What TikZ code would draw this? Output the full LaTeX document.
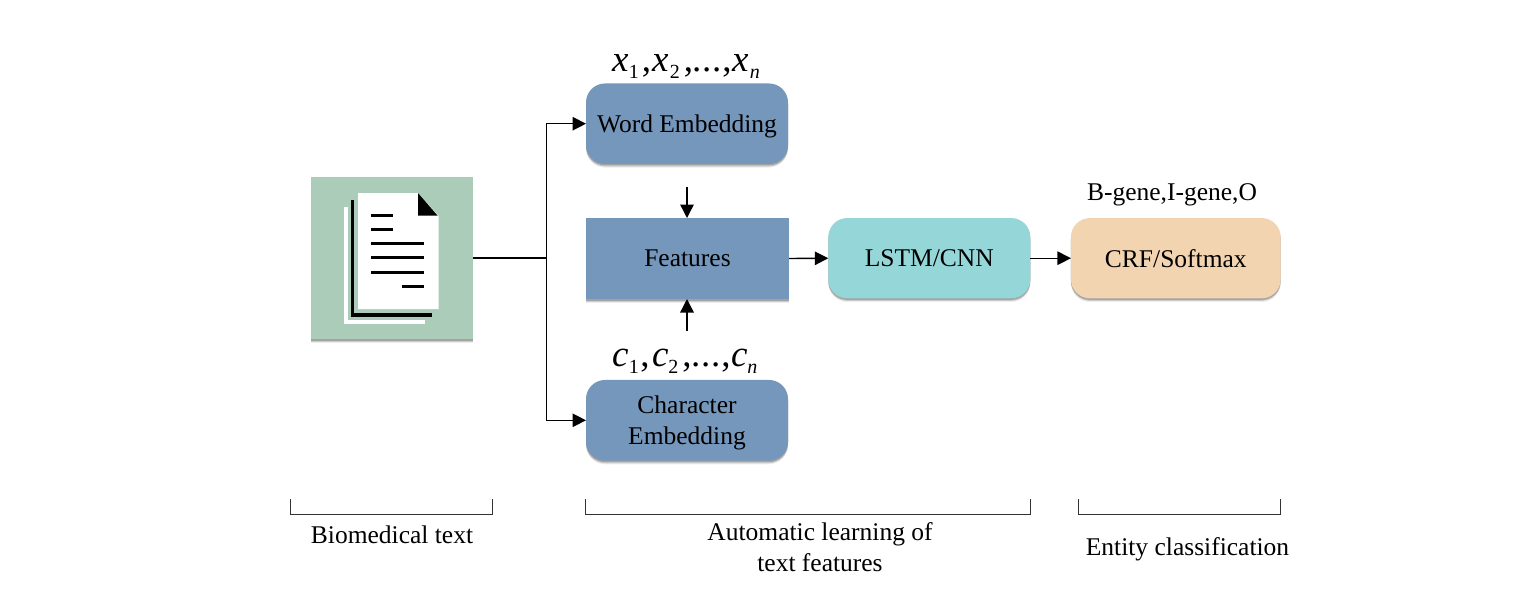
\documentclass[tikz,border=0pt]{standalone}
\usepackage{fontspec}
\setmainfont{Liberation Serif}
\usetikzlibrary{arrows.meta,shadows}
\definecolor{docgreen}{HTML}{AACCB8}
\definecolor{boxblue}{HTML}{7597BC}
\definecolor{boxteal}{HTML}{95D6D8}
\definecolor{boxpeach}{HTML}{F2D4B0}
\tikzset{
  softshadow/.style={
    general shadow={shadow xshift=0pt,shadow yshift=-3.6pt,fill=black,opacity=.07},
    general shadow={shadow xshift=0pt,shadow yshift=-2.6pt,fill=black,opacity=.14},
    general shadow={shadow xshift=0pt,shadow yshift=-1.5pt,fill=black,opacity=.2}},
  stage/.style={draw=none,inner sep=0pt,outer sep=0pt,softshadow,font=\fontsize{25.5}{31}\selectfont,align=center,text=black},
  roundstage/.style={stage,rounded corners=19pt},
  plaintext/.style={inner sep=0pt,outer sep=0pt,font=\fontsize{25.5}{31}\selectfont,align=center,text=black},
  mathtext/.style={inner sep=0pt,outer sep=0pt,anchor=base west,text=black},
  arr/.style={line width=1.4pt,-{Triangle[length=13.5pt,width=13.5pt]}},
  link/.style={line width=1.4pt},
  brace/.style={line width=1pt,black!80},
  docstroke/.style={line width=3pt,black},
}
\newcommand{\lowstrut}{\rule{0pt}{23pt}}
\newcommand{\mvar}[1]{{\fontsize{37}{40}\selectfont\itshape #1}}
\newcommand{\msub}[1]{\raisebox{-7.5pt}{\fontsize{20}{24}\selectfont #1}}
\newcommand{\msubi}[1]{\raisebox{-7.5pt}{\fontsize{20}{24}\selectfont\itshape #1}}
\newcommand{\mcomma}{{\fontsize{37}{40}\selectfont ,}}
\newcommand{\mdots}{{\fontsize{37}{40}\selectfont .\hspace{0.8pt}.\hspace{0.8pt}.}}
\begin{document}
\begin{tikzpicture}[x=1pt,y=-1pt]
\useasboundingbox (0,0) rectangle (1528,598);
% document tile
\node[stage,fill=docgreen,minimum width=162pt,minimum height=162pt] (doc) at (392,258) {};
\fill[white] (344.3,207) rectangle (347.7,323.7);
\fill[white] (344.3,320.3) rectangle (425.3,323.7);
\fill[black] (351,200) rectangle (354,316.7);
\fill[black] (351,313) rectangle (432,316.7);
\fill[white] (358,193) -- (418,193) -- (438.7,216) -- (438.7,309) -- (358,309) -- cycle;
\fill[black] (418,193) -- (418,215.7) -- (437.7,215.7) -- cycle;
\foreach \yy/\xa/\xb in {215.3/371/392.7,229.3/371/392.7,243.7/371/423.7,257.7/371/423.7,272/371/423.7,286.3/402.3/423.7}
  \draw[docstroke] (\xa,\yy) -- (\xb,\yy);
% boxes
\node[roundstage,fill=boxblue,minimum width=202pt,minimum height=80.5pt] (word) at (687,123.7) {\lowstrut Word Embedding};
\node[stage,fill=boxblue,minimum width=203pt,minimum height=81pt] (feat) at (687.5,258.5) {Features};
\node[roundstage,fill=boxblue,minimum width=202pt,minimum height=80.7pt] (char) at (687,420.3) {\lowstrut Character\\Embedding};
\node[roundstage,fill=boxteal,minimum width=202pt,minimum height=80.3pt] (lstm) at (929.3,258.2) {LSTM/CNN};
\node[roundstage,fill=boxpeach,minimum width=209.7pt,minimum height=80.3pt] (crf) at (1175.8,258.2) {CRF/Softmax};
% math labels
\node[mathtext] (xa) at (612,71) {\mvar{x}\hspace{0.5pt}\msub{1}\hspace{3pt}\mcomma};
\node[mathtext] (xb) at (652,71) {\mvar{x}\hspace{1.5pt}\msub{2}\hspace{4pt}\mcomma};
\node[mathtext] (xc) at (692,71) {\mdots\hspace{1pt}\mcomma};
\node[mathtext] (xd) at (732,71) {\mvar{x}\hspace{1.5pt}\msubi{n}};
\node[mathtext] (ca) at (612,366) {\mvar{c}\hspace{0.5pt}\msub{1}\hspace{1.5pt}\mcomma};
\node[mathtext] (cb) at (652,366) {\mvar{c}\hspace{0pt}\msub{2}\hspace{4pt}\mcomma};
\node[mathtext] (cc) at (691,366) {\mdots\hspace{1pt}\mcomma};
\node[mathtext] (cd) at (731,366) {\mvar{c}\hspace{0pt}\msubi{n}};
\node[plaintext] (tags) at (1172,192) {\lowstrut B-gene,I-gene,O};
% connectors
\coordinate (trunk) at (546.5,258);
\coordinate (wordfree) at (687,187.3);
\coordinate (charfree) at (687,330.7);
\draw[link] (doc.east) -- (trunk);
\draw[arr] (trunk) |- (word.west);
\draw[arr] (trunk) |- (char.west);
\draw[arr] (wordfree) -- (feat.north -| wordfree);
\draw[arr] (charfree) -- (feat.south -| charfree);
\draw[arr] (feat.east) -- (lstm.west);
\draw[arr] (lstm.east) -- (crf.west);
% brackets
\coordinate (b1a) at (290.5,499); \coordinate (b1b) at (492.5,499);
\coordinate (b2a) at (585.5,499); \coordinate (b2b) at (1030.5,499);
\coordinate (b3a) at (1078.5,499); \coordinate (b3b) at (1280.5,499);
\draw[brace] (b1a) -- ++(0,15) -| (b1b);
\draw[brace] (b2a) -- ++(0,15) -| (b2b);
\draw[brace] (b3a) -- ++(0,15) -| (b3b);
\node[plaintext] (lab1) at (392,535) {Biomedical text};
\node[plaintext] (lab2) at (820,547) {Automatic learning of\\text features};
\node[plaintext] (lab3) at (1187.5,547) {\lowstrut Entity classification};
\end{tikzpicture}
\end{document}
